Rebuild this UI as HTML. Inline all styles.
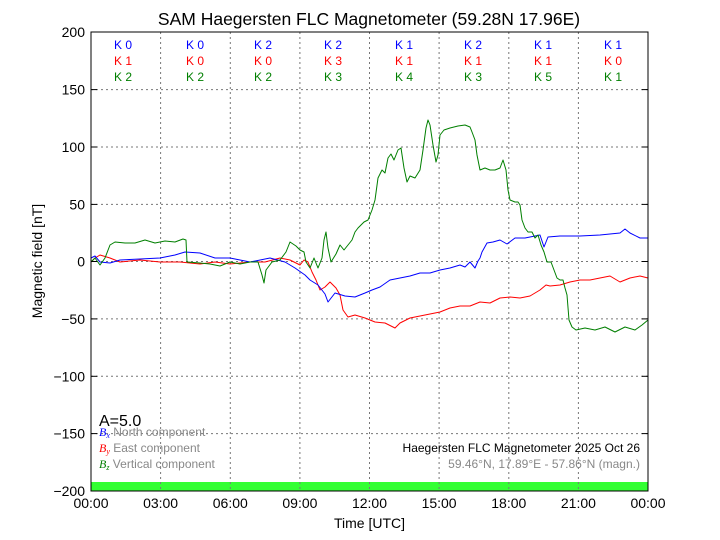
<!DOCTYPE html>
<html><head><meta charset="utf-8"><style>body{margin:0;background:#fff}svg{display:block}</style></head><body>
<svg width="720" height="540" xmlns="http://www.w3.org/2000/svg" font-family="Liberation Sans, sans-serif">
<rect width="720" height="540" fill="#fff"/>
<rect x="91" y="482" width="557" height="9" fill="#33ff33"/>
<g stroke="#777" stroke-dasharray="2,3" stroke-width="1">
<line x1="160.6" y1="32" x2="160.6" y2="491"/><line x1="230.3" y1="32" x2="230.3" y2="491"/><line x1="299.9" y1="32" x2="299.9" y2="491"/><line x1="369.5" y1="32" x2="369.5" y2="491"/><line x1="439.1" y1="32" x2="439.1" y2="491"/><line x1="508.8" y1="32" x2="508.8" y2="491"/><line x1="578.4" y1="32" x2="578.4" y2="491"/>
<line x1="91" y1="89.6" x2="648" y2="89.6"/><line x1="91" y1="147" x2="648" y2="147"/><line x1="91" y1="204.4" x2="648" y2="204.4"/><line x1="91" y1="261.5" x2="648" y2="261.5"/><line x1="91" y1="318.9" x2="648" y2="318.9"/><line x1="91" y1="376.3" x2="648" y2="376.3"/><line x1="91" y1="433.6" x2="648" y2="433.6"/>
</g>
<g fill="none" stroke-width="1" stroke-linejoin="round">
<polyline stroke="#ff0000" points="91,262 95,258 100,255 110,258 120,262 140,260 160,262 180,262 200,264 215,262 230,264 250,262 265,262 280,258 290,260 300,265 304,260 308,262 312,272 316,280 320,290 325,287 330,282 336,288 340,295 343,310 348,317 355,315 365,318 375,322 385,323 395,328 400,323 410,318 420,316 430,314 440,312 450,308 460,306 470,306 480,302 490,303 500,298 510,297 520,298 530,296 540,290 546,285 550,286 560,285 570,282 580,280 590,280 600,278 610,276 620,282 630,278 640,276 648,278"/>
<polyline stroke="#0000ff" points="91,258 95,256 100,262 110,263 120,260 140,259 160,258 175,255 185,252 200,253 215,258 230,258 250,262 270,258 285,262 295,268 305,275 310,280 318,285 325,294 328,302 335,293 345,296 355,297 365,293 372,290 380,287 390,280 400,278 410,276 420,273 430,273 440,270 450,268 460,265 465,267 470,262 475,268 478,261 480,258 482,252 487,243 493,242 500,240 507,244 515,238 525,238 535,236 540,235 544,247 548,237 560,236 580,236 600,235 620,233 625,229 630,233 640,238 648,238"/>
<polyline stroke="#007f00" points="91,262 95,258 100,265 105,258 110,245 115,242 125,243 135,243 145,240 155,243 165,241 175,242 183,239 186,240 187,262 200,263 210,264 220,266 230,262 240,264 250,262 258,262 262,275 264,283 266,270 272,262 280,260 286,252 290,242 296,246 300,250 304,252 306,262 310,268 314,258 318,268 322,258 324,240 326,232 328,248 331,262 336,254 340,245 344,250 348,245 352,240 355,232 358,228 364,222 368,220 372,210 375,200 378,178 382,170 385,173 388,158 391,154 394,160 398,150 401,148 404,168 407,182 410,176 415,178 420,170 423,150 426,128 428,120 430,125 433,145 436,162 438,155 440,135 444,130 450,128 458,126 465,125 470,127 472,132 475,140 477,155 480,170 485,168 490,170 495,170 500,168 503,160 506,170 508,190 510,200 515,202 518,202 520,205 522,220 525,228 528,232 532,232 535,238 538,235 541,245 544,252 547,262 551,262 554,270 557,278 560,280 563,280 565,288 567,295 569,320 572,327 576,330 585,328 595,330 605,327 615,332 625,327 635,330 642,325 648,320"/>
</g>
<rect x="91" y="32" width="557" height="459" fill="none" stroke="#000" stroke-width="1"/>
<g stroke="#000">
<line x1="91" y1="89.6" x2="97" y2="89.6"/><line x1="91" y1="147" x2="97" y2="147"/><line x1="91" y1="204.4" x2="97" y2="204.4"/><line x1="91" y1="261.5" x2="97" y2="261.5"/><line x1="91" y1="318.9" x2="97" y2="318.9"/><line x1="91" y1="376.3" x2="97" y2="376.3"/><line x1="91" y1="433.6" x2="97" y2="433.6"/>
<line x1="648" y1="89.6" x2="642" y2="89.6"/><line x1="648" y1="147" x2="642" y2="147"/><line x1="648" y1="204.4" x2="642" y2="204.4"/><line x1="648" y1="261.5" x2="642" y2="261.5"/><line x1="648" y1="318.9" x2="642" y2="318.9"/><line x1="648" y1="376.3" x2="642" y2="376.3"/><line x1="648" y1="433.6" x2="642" y2="433.6"/>
</g>
<g font-size="14" text-anchor="end">
<text x="85" y="37">200</text><text x="85" y="94.6">150</text><text x="85" y="152">100</text><text x="85" y="209.4">50</text><text x="85" y="266.5">0</text><text x="85" y="323.9">−50</text><text x="85" y="381.3">−100</text><text x="85" y="438.6">−150</text><text x="85" y="496">−200</text>
</g>
<g font-size="14" text-anchor="middle">
<text x="91" y="508">00:00</text><text x="160.6" y="508">03:00</text><text x="230.3" y="508">06:00</text><text x="299.9" y="508">09:00</text><text x="369.5" y="508">12:00</text><text x="439.1" y="508">15:00</text><text x="508.8" y="508">18:00</text><text x="578.4" y="508">21:00</text><text x="648" y="508">00:00</text>
<text x="369.5" y="528">Time [UTC]</text>
<text x="369" y="25" font-size="17.5">SAM Haegersten FLC Magnetometer (59.28N 17.96E)</text>
</g>
<text transform="translate(42,261) rotate(-90)" font-size="14" text-anchor="middle">Magnetic field [nT]</text>
<g font-size="12" text-anchor="middle">
<g fill="#0000ff"><text x="123" y="49">K 0</text><text x="195" y="49">K 0</text><text x="263" y="49">K 2</text><text x="333" y="49">K 2</text><text x="404" y="49">K 1</text><text x="473" y="49">K 2</text><text x="543" y="49">K 1</text><text x="613" y="49">K 1</text></g>
<g fill="#ff0000"><text x="123" y="65">K 1</text><text x="195" y="65">K 0</text><text x="263" y="65">K 0</text><text x="333" y="65">K 3</text><text x="404" y="65">K 1</text><text x="473" y="65">K 1</text><text x="543" y="65">K 1</text><text x="613" y="65">K 0</text></g>
<g fill="#007f00"><text x="123" y="81">K 2</text><text x="195" y="81">K 2</text><text x="263" y="81">K 2</text><text x="333" y="81">K 3</text><text x="404" y="81">K 4</text><text x="473" y="81">K 3</text><text x="543" y="81">K 5</text><text x="613" y="81">K 1</text></g>
</g>
<text x="99" y="426" font-size="16">A=5.0</text>
<g font-size="12" fill="#888">
<text x="99" y="436"><tspan fill="#0000ff" font-family="Liberation Serif, serif" font-style="italic">B<tspan font-size="8" dy="2">x</tspan></tspan><tspan dy="-2"> North component</tspan></text>
<text x="99" y="452"><tspan fill="#ff0000" font-family="Liberation Serif, serif" font-style="italic">B<tspan font-size="8" dy="2">y</tspan></tspan><tspan dy="-2"> East component</tspan></text>
<text x="99" y="468"><tspan fill="#007f00" font-family="Liberation Serif, serif" font-style="italic">B<tspan font-size="8" dy="2">z</tspan></tspan><tspan dy="-2"> Vertical component</tspan></text>
<text x="640" y="468" text-anchor="end">59.46°N, 17.89°E - 57.86°N (magn.)</text>
</g>
<text x="640" y="452" font-size="12" text-anchor="end">Haegersten FLC Magnetometer 2025 Oct 26</text>
</svg>
</body></html>
